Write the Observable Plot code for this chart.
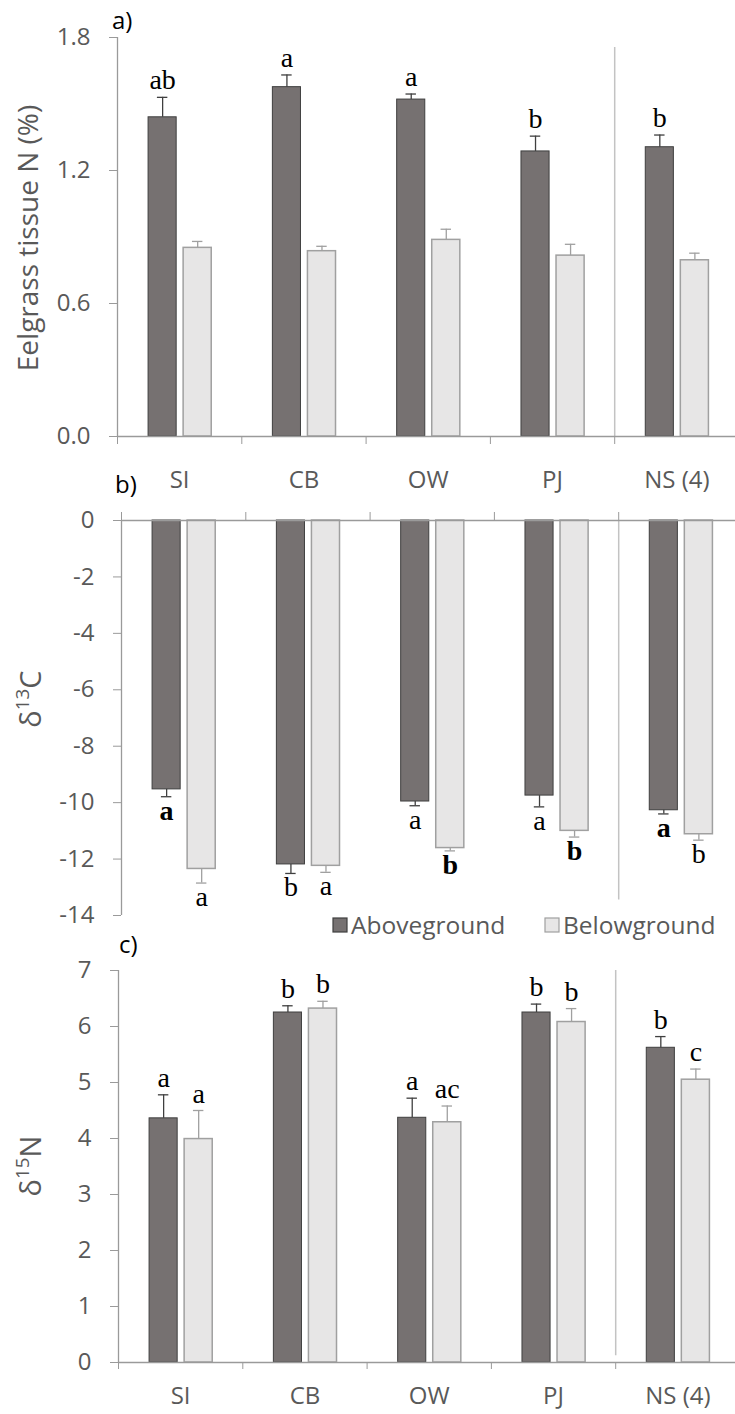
<!DOCTYPE html>
<html><head><meta charset="utf-8">
<script src="https://cdn.jsdelivr.net/npm/d3@7"></script>
<script src="https://cdn.jsdelivr.net/npm/@observablehq/plot@0.6"></script>
<style>
body{margin:0;background:#fff;}
#wrap{position:relative;width:735px;height:1414px;overflow:hidden;font-family:"Open Sans",sans-serif;background:#fff;}
</style></head><body><div id="wrap"></div>
<script>
// ---------- data ----------
const sites = ["SI", "CB", "OW", "PJ", "NS (4)"];
const tissues = ["Aboveground", "Belowground"];

// a) Eelgrass tissue N (%)
const nAbove      = [1.44, 1.576, 1.52, 1.286, 1.305];
const nAboveSE    = [0.09, 0.055, 0.025, 0.069, 0.055];
const nBelow      = [0.851, 0.836, 0.887, 0.816, 0.795];
const nBelowSE    = [0.029, 0.022, 0.048, 0.051, 0.032];
const nAboveLetters = ["ab", "a", "a", "b", "b"];
const nBelowLetters = ["", "", "", "", ""];

// b) δ13C
const cAbove      = [-9.53, -12.19, -9.96, -9.75, -10.27];
const cAboveSE    = [0.26, 0.32, 0.15, 0.40, 0.13];
const cBelow      = [-12.35, -12.24, -11.61, -11.0, -11.12];
const cBelowSE    = [0.50, 0.23, 0.10, 0.22, 0.21];
const cAboveLetters = ["a", "b", "a", "a", "a"];
const cBelowLetters = ["a", "a", "b", "b", "b"];
const cAboveBold  = [true, false, false, false, true];
const cBelowBold  = [false, false, true, true, false];

// c) δ15N
const sAbove      = [4.36, 6.25, 4.37, 6.25, 5.62];
const sAboveSE    = [0.42, 0.12, 0.35, 0.15, 0.20];
const sBelow      = [3.99, 6.32, 4.29, 6.08, 5.05];
const sBelowSE    = [0.51, 0.13, 0.29, 0.24, 0.19];
const sAboveLetters = ["a", "b", "a", "b", "b"];
const sBelowLetters = ["a", "b", "ac", "b", "c"];

// ---------- styling ----------
const AXIS = "#9a9a9a", TXT = "#595959";
const style = {
  Aboveground: {fill: "#767171", stroke: "#3f3f3f", sw: 1, err: "#3f3f3f", off: [0.25, 0.476]},
  Belowground: {fill: "#e7e6e6", stroke: "#a0a0a0", sw: 1.5, err: "#a0a0a0", off: [0.532, 0.758]}
};
const CAP = 0.042;

function rowsFor(tissue, vals, se, letters, bold) {
  return sites.map((s, i) => ({site: s, i, tissue, v: vals[i], se: se[i],
    letter: letters ? letters[i] : "", bold: bold ? bold[i] : false}));
}

function tissueMarks(rows, sign) {
  const t = rows[0].tissue, st = style[t];
  const c = (st.off[0] + st.off[1]) / 2;
  const end = d => d.v + sign * d.se;
  const marks = [
    Plot.rect(rows, {x1: d => d.i + st.off[0], x2: d => d.i + st.off[1], y1: 0, y2: "v",
      fill: st.fill, stroke: st.stroke, strokeWidth: st.sw}),
    Plot.ruleX(rows, {x: d => d.i + c, y1: "v", y2: end, stroke: st.err, strokeWidth: 1.3}),
    Plot.ruleY(rows, {y: end, x1: d => d.i + c - CAP, x2: d => d.i + c + CAP, stroke: st.err, strokeWidth: 1.3})
  ];
  const common = {x: d => d.i + c, y: end, text: "letter", fontFamily: "Liberation Serif", fontSize: 28,
    fill: "#000", lineAnchor: sign > 0 ? "bottom" : "top", dy: sign > 0 ? -8 : 3};
  marks.push(Plot.text(rows.filter(d => d.letter && !d.bold), common));
  marks.push(Plot.text(rows.filter(d => d.letter && d.bold), {...common, fontWeight: "bold"}));
  return marks;
}

function panel(o) {
  return Plot.plot({
    width: 735, height: o.height,
    marginTop: o.mt, marginBottom: o.mb, marginLeft: o.x0, marginRight: 0,
    x: {domain: [0, 5], range: [o.x0, o.x0 + 5 * 124.3]},
    y: {domain: o.yDomain},
    style: {position: "absolute", left: "0px", top: o.top + "px", background: "transparent",
      overflow: "visible", fontFamily: "Open Sans", fontSize: "24px", color: TXT},
    marks: [
      Plot.ruleX([4], {y1: o.sep[0], y2: o.sep[1], stroke: "#c3c3c3", strokeWidth: 1.5}),
      ...tissueMarks(o.above, o.sign),
      ...tissueMarks(o.below, o.sign),
      Plot.ruleX([0], {stroke: AXIS, strokeWidth: 1.3}),
      Plot.ruleY([0], {stroke: AXIS, strokeWidth: 1.3}),
      Plot.axisY({ticks: o.yTicks, tickFormat: o.fmt, tickSize: 8, tickPadding: 19,
        stroke: AXIS, fill: TXT, fontSize: 24, label: null}),
      Plot.axisX({ticks: [0, 1, 2, 3, 4, 5], tickSize: o.xTick, tickFormat: () => "",
        anchor: o.xAnchor, stroke: AXIS, label: null}),
      ...(o.xLabels ? [Plot.axisX({ticks: [0.5, 1.5, 2.5, 3.5, 4.5], tickSize: 0,
        tickPadding: o.labPad, tickFormat: d => sites[Math.floor(d)], anchor: "bottom",
        fill: TXT, fontSize: 24, label: null})] : [])
    ]
  });
}

const wrap = document.getElementById("wrap");

wrap.appendChild(panel({
  top: 0, height: 500, mt: 37, mb: 64, x0: 117, yDomain: [0, 1.8],
  yTicks: [0, 0.6, 1.2, 1.8], fmt: d3.format(".1f"), sign: 1,
  above: rowsFor("Aboveground", nAbove, nAboveSE, nAboveLetters),
  below: rowsFor("Belowground", nBelow, nBelowSE, nBelowLetters),
  sep: [1.755, 0], xTick: 8, xAnchor: "bottom", xLabels: true, labPad: 34
}));

wrap.appendChild(panel({
  top: 480, height: 460, mt: 40, mb: 25, x0: 121, yDomain: [-14, 0],
  yTicks: [0, -2, -4, -6, -8, -10, -12, -14], fmt: d => String(d), sign: -1,
  above: rowsFor("Aboveground", cAbove, cAboveSE, cAboveLetters, cAboveBold),
  below: rowsFor("Belowground", cBelow, cBelowSE, cBelowLetters, cBelowBold),
  sep: [0, -13.45], xTick: 9, xAnchor: "top", xLabels: false
}));

wrap.appendChild(panel({
  top: 920, height: 494, mt: 50, mb: 52, x0: 118, yDomain: [0, 7],
  yTicks: [0, 1, 2, 3, 4, 5, 6, 7], fmt: d => String(d), sign: 1,
  above: rowsFor("Aboveground", sAbove, sAboveSE, sAboveLetters),
  below: rowsFor("Belowground", sBelow, sBelowSE, sBelowLetters),
  sep: [7, 0.12], xTick: 7, xAnchor: "bottom", xLabels: true, labPad: 24
}));

// ---------- overlay text: panel tags, axis titles, legend ----------
const ov = d3.select(wrap).append("svg")
  .attr("width", 735).attr("height", 1414)
  .style("position", "absolute").style("left", "0px").style("top", "0px")
  .style("pointer-events", "none").style("font-family", "Open Sans");

[["a)", 112, 29], ["b)", 115, 493], ["c)", 119, 953]].forEach(([t, x, y]) =>
  ov.append("text").attr("x", x).attr("y", y).attr("font-size", 24).attr("fill", "#000").text(t));

function ylab(x, y, parts, size) {
  const t = ov.append("text").attr("transform", `translate(${x},${y}) rotate(-90)`)
    .attr("text-anchor", "middle").attr("font-size", size).attr("fill", TXT);
  parts.forEach(([s, sup]) => {
    const ts = t.append("tspan").text(s);
    if (sup) ts.attr("font-size", size * 0.65).attr("dy", -size * 0.42);
    else if (t.node().childNodes.length > 1) ts.attr("dy", size * 0.42);
  });
}
ylab(38, 238, [["Eelgrass tissue N (%)", false]], 28);
ylab(41, 699, [["δ", false], ["13", true], ["C", false]], 29);
ylab(41, 1166, [["δ", false], ["15", true], ["N", false]], 29);

const leg = [[tissues[0], 333], [tissues[1], 545]];
leg.forEach(([t, x]) => {
  const st = style[t];
  ov.append("rect").attr("x", x).attr("y", 918).attr("width", 14).attr("height", 14)
    .attr("fill", st.fill).attr("stroke", st.stroke).attr("stroke-width", 1.2);
  ov.append("text").attr("x", x + 18).attr("y", 934).attr("font-size", 24.5).attr("fill", TXT).text(t);
});
</script></body></html>
